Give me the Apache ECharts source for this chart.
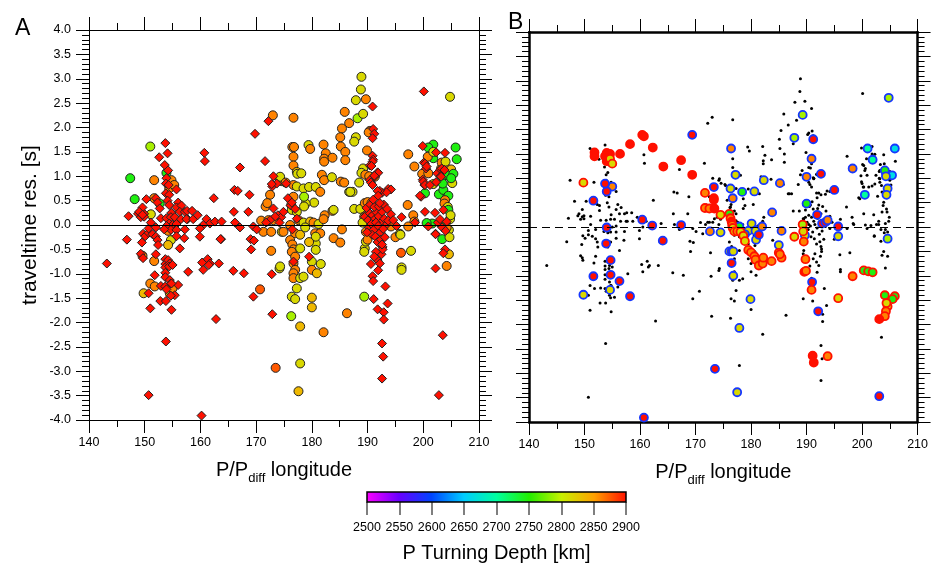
<!DOCTYPE html>
<html><head><meta charset="utf-8">
<script src="https://cdn.jsdelivr.net/npm/echarts/dist/echarts.min.js"></script>
<style>html,body{margin:0;padding:0;background:#fff}#c{width:931px;height:566px}</style>
</head><body><div id="c"></div><script>
// depth codes (km) used for fills / edges
const R=2900, O=2860, YO=2835, Y=2815, YG=2790, G=2745, T=2700, C=2665, BL=2590;

// colour bar definition
const depthTicks = [2500,2550,2600,2650,2700,2750,2800,2850,2900];
const depthColors = ['#ff00ff','#6a00ff','#0044ff','#00ccff','#00ffa0','#22ee00','#c8f000','#ffa000','#ff1000'];

// Panel A: red diamonds [lon, res]
const diamondsA = [
[143.2,-0.79],[146.8,-0.30],[147.1,0.18],[148.8,0.23],[149.9,0.23],[149.3,0.16],[149.6,0.36],[149.0,0.27],[149.9,0.17],[149.6,0.21],
[149.5,-0.36],[149.7,-0.18],[150.1,-0.23],[150.7,-0.16],[149.3,-0.59],[149.7,-0.68],[150.7,-0.07],[151.1,0.05],[150.3,0.53],[152.0,0.55],
[152.3,0.46],[152.7,0.34],[151.4,-0.19],[152.0,-0.05],[152.0,-0.24],[152.3,-0.31],[152.4,-0.41],[152.0,-0.60],[151.8,-1.03],[152.9,-1.25],
[150.7,-1.40],[151.0,-1.71],[150.7,-3.49],[152.8,-1.56],[153.8,-1.56],[153.8,-2.39],[153.7,1.68],[154.1,1.47],[152.6,1.39],[153.6,1.23],
[154.2,1.12],[153.9,0.96],[153.8,0.85],[154.3,0.82],[155.7,0.73],[153.8,0.65],[154.4,0.62],[154.1,0.50],[154.4,0.41],[156.0,0.46],
[155.7,0.36],[156.6,0.40],[154.8,0.25],[156.3,0.27],[157.2,0.27],[152.9,0.14],[153.9,0.14],[154.7,0.16],[155.4,0.16],[156.5,0.12],
[157.7,0.12],[154.4,0.03],[155.0,0.00],[155.7,0.02],[153.9,-0.02],[154.7,-0.10],[153.5,-0.09],[155.7,-0.10],[155.7,-0.23],[157.1,-0.27],
[153.7,-0.70],[153.7,-0.80],[153.7,-0.87],[153.7,-0.98],[153.7,-1.07],[153.7,-1.26],[154.2,-0.72],[154.5,-0.79],[154.4,-0.85],[155.0,-0.82],
[154.5,-1.13],[154.7,-1.20],[154.8,-1.74],[155.4,-1.44],[156.0,-1.23],[156.3,-0.48],[157.8,-0.96],[154.7,-1.45],[153.9,-1.32],[154.8,-1.20],
[157.6,0.29],[158.5,0.29],[157.5,0.12],[158.7,0.12],[159.5,0.20],[161.1,0.12],[161.7,0.03],[162.6,0.07],[163.8,0.07],[160.5,0.00],[159.9,-0.07],[157.2,-0.09],
[166.2,0.05],[167.1,-0.05],[169.5,-0.03],[170.1,-0.09],[166.0,0.27],[168.6,0.27],[159.9,-0.24],[163.7,-0.29],[169.0,-0.29],[169.6,-0.32],[169.1,-0.50],
[161.3,-0.70],[161.7,-0.79],[160.3,-0.77],[161.5,-0.82],[163.3,-0.79],[160.5,-0.92],[165.9,-0.94],[167.8,-0.99],[172.8,-1.01],[169.5,-1.47],[162.8,-1.93],[160.2,-3.91],
[160.7,1.48],[160.8,1.31],[167.1,1.18],[169.8,1.87],[172.2,2.13],[171.6,1.31],[166.1,0.72],[166.7,0.70],[162.4,0.55],[168.8,0.62],
[172.9,-1.83],[163.6,-0.29],
[173.1,1.00],[172.9,0.79],[173.7,0.85],[172.8,0.84],[173.1,0.34],[173.9,0.20],[174.5,0.16],[173.4,0.17],[172.5,0.10],[171.8,0.05],[174.9,0.27],[175.4,0.85],[174.2,0.05],[176.2,0.40],[175.7,0.55],[176.4,0.46],[177.0,0.33],
[176.7,-0.75],[179.5,-0.65],[176.5,-0.09],[177.3,0.13],
[190.9,2.43],[191.0,1.97],[191.2,1.87],[190.9,1.78],[190.9,1.42],[191.0,1.34],[190.9,1.30],[190.4,1.22],[190.7,1.21],[191.8,1.08],[191.9,1.07],[191.3,1.00],[191.2,1.01],
[190.4,0.92],[190.6,0.87],[190.9,0.82],[192.6,0.66],[193.7,0.74],[194.2,0.73],[193.4,0.67],[192.2,0.70],[191.8,0.70],[191.9,0.60],
[189.5,0.17],[190.1,0.10],[190.4,0.24],[190.9,0.20],[191.3,0.12],[191.6,0.26],[192.0,0.18],[192.4,0.05],[192.6,0.27],[193.0,0.13],[193.4,0.01],[190.3,-0.05],[190.7,0.02],[191.1,-0.10],[191.5,0.05],[191.9,-0.02],[192.3,-0.15],[192.8,-0.08],[193.7,0.09],[194.2,0.22],[190.8,-0.20],[191.4,-0.24],[191.8,-0.35],[192.4,-0.30],[192.7,-0.45],[193.1,-0.25],[189.8,0.35],[190.5,0.42],[191.2,0.37],[192.0,0.38],[192.9,0.42],[193.5,0.33],[191.0,0.52],[192.2,0.45],[189.9,-0.15],
[190.6,-0.80],[190.9,-1.05],[191.0,-1.15],[191.1,-1.52],[191.8,-0.72],[192.2,-0.79],[191.9,-0.93],[191.8,-1.73],[192.9,-1.79],[192.9,-1.94],[193.2,-1.26],[193.6,-1.61],[192.6,-2.43],[192.8,-2.70],[192.6,-3.15],[192.5,-0.60],[192.7,-0.50],[192.6,-0.40],[191.5,-0.55],[191.2,-0.65],
[196.1,0.16],[198.5,0.05],[200.9,-0.03],[195.2,-0.02],[194.6,0.10],
[200.1,2.74],[199.9,1.62],[202.3,1.49],[203.9,1.48],[200.1,1.28],[200.5,1.16],[200.3,1.26],[200.6,1.20],[202.5,1.06],[203.1,1.14],[203.3,1.16],[203.1,1.00],[203.2,0.99],[203.8,1.13],
[199.9,0.93],[200.2,0.82],[200.0,0.89],[200.3,0.82],[201.2,0.82],[202.3,0.88],[199.6,0.58],[199.4,0.60],[200.3,0.27],[203.6,0.31],[202.1,0.25],[202.2,-0.18],[204.2,0.07],[202.6,0.05],[203.0,0.12],[203.4,-0.05],[204.0,-0.12],
[203.9,-0.50],[203.6,-0.58],[202.2,-0.89],[203.5,-2.26],[202.8,-3.49],[202.2,-0.19]
];

// Panel A: circles coloured by turning depth [lon, res, depth]
const hexA = [
[147.4,0.96,G],[148.2,0.53,G],[151.0,1.61,YG],[151.7,0.92,O],[151.7,0.55,O],[151.1,0.22,Y],[154.8,0.92,O],[154.4,0.75,O],[155.3,0.82,O],[153.9,1.07,G],[152.7,0.44,G],[154.2,-0.12,O],[154.7,-0.31,Y],[154.2,-0.41,YO],[149.6,-0.63,O],[151.7,-0.74,O],[151.0,-1.20,O],[151.8,-1.26,O],[149.8,-1.40,YO],[154.5,-1.40,YO],[155.0,-1.30,O],
[170.7,-1.32,2875],[173.5,-2.93,2875],[173.0,2.25,O],[176.7,2.20,O],[172.5,0.62,O],[171.7,0.38,O],[172.0,0.45,O],[170.9,0.09,O],[171.3,-0.14,O],[172.7,-0.14,O],[174.6,-0.14,Y],[172.2,0.10,O],[173.1,0.10,O],[172.7,-0.53,O],[174.2,-0.89,Y],[174.2,0.96,YO],[174.6,0.90,O],
[176.5,1.60,O],[176.8,1.60,O],[176.7,1.40,O],[176.7,1.22,O],[177.3,1.09,YO],[177.4,1.05,Y],[178.1,1.06,Y],[179.4,1.64,Y],[179.7,1.56,O],[182.1,1.65,O],[182.5,1.47,O],[182.2,1.36,O],[182.2,1.30,O],[183.7,1.38,O],[181.8,1.03,O],[182.2,0.92,O],[183.6,0.98,Y],[185.2,0.89,O],[185.8,0.87,O],[186.7,0.68,Y],[187.3,0.68,Y],[188.5,0.87,Y],
[174.3,0.99,Y],[175.3,0.87,O],[176.7,0.82,O],[177.3,0.79,Y],[178.5,0.75,Y],[179.5,0.78,Y],[180.7,0.78,Y],[181.5,0.68,O],[180.4,0.46,Y],[178.9,0.44,Y],[176.7,0.58,O],[176.3,0.41,O],[176.4,0.31,Y],[177.3,0.27,Y],[178.6,0.58,YG],[178.6,0.38,Y],[183.7,0.29,O],[182.3,0.20,O],
[177.6,0.10,O],[178.5,0.05,Y],[179.7,0.07,YO],[180.3,0.05,O],[181.2,0.02,Y],[182.1,0.12,O],[176.1,0.00,O],[174.9,-0.14,O],[177.0,-0.17,O],[177.9,-0.20,YO],[178.8,-0.05,Y],[180.6,-0.17,O],[181.5,-0.17,O],[185.4,-0.09,O],[183.9,-0.27,O],[185.1,-0.36,O],
[176.1,-0.31,O],[176.5,-0.40,O],[176.7,-0.50,O],[176.4,-0.55,O],[177.9,-0.48,Y],[177.0,-0.65,O],[176.7,-0.79,O],[180.0,-0.75,Y],[180.7,-0.38,Y],[180.7,-0.51,Y],[180.7,-0.24,Y],[179.5,-0.35,YO],
[177.0,-0.92,O],[176.7,-0.99,O],[176.7,-1.09,O],[177.9,-1.09,Y],[178.5,-1.06,Y],[180.0,-0.92,O],[180.9,-0.99,YO],[181.6,-0.80,Y],[177.3,-1.30,Y],[180.0,-1.49,YO],[176.4,-1.47,Y],[177.0,-1.52,Y],[180.0,-1.69,YO],[176.3,-1.87,YG],[177.9,-2.08,YO],[177.9,-2.84,Y],[177.6,-3.41,YO],[182.1,-2.20,O],[186.3,-1.81,O],[174.3,-0.85,Y],[183.9,0.31,Y],
[188.9,3.04,Y],[188.8,2.78,Y],[187.9,2.56,Y],[189.7,2.58,O],[188.2,2.19,YG],[189.2,2.28,Y],[185.9,2.32,O],[186.7,2.09,O],[185.4,1.98,O],[185.1,1.80,O],[187.9,1.80,Y],[187.6,1.71,Y],[185.2,1.61,O],[186.0,1.50,O],[186.0,1.33,O],[189.2,1.16,Y],[188.9,1.07,Y],[189.6,1.03,O],[189.9,1.53,O],[190.4,1.93,O],[190.2,1.90,O],[186.9,0.68,Y],
[187.6,0.33,Y],[188.7,0.33,Y],[189.4,0.17,O],[189.8,0.20,O],[189.5,0.45,O],[190.0,0.47,O],[190.7,0.45,O],[189.5,-0.48,Y],[189.4,-0.55,Y],[189.7,-0.34,Y],[189.7,-0.14,O],[190.0,-0.30,O],[189.4,-1.47,YG],[190.3,1.00,O],[191.3,0.99,O],[194.2,-0.03,O],[195.0,-0.25,O],[195.8,-0.18,Y],[195.9,-0.20,Y],[196.0,-0.57,2875],[196.1,-0.87,Y],[196.1,-0.92,Y],[197.8,-0.53,Y],[197.2,0.41,O],[198.2,0.20,O],[198.4,0.07,O],[197.3,-0.03,O],[197.3,1.45,O],[198.4,1.20,O],[190.4,0.05,O],[189.1,0.05,Y],
[204.8,2.63,Y],[201.8,1.65,G],[200.9,1.59,G],[205.8,1.59,G],[206.0,1.35,G],[201.8,1.37,G],[200.8,1.40,O],[201.8,1.50,Y],[199.8,1.05,O],[200.9,1.06,O],[200.3,0.65,G],[201.8,0.84,Y],[203.2,1.16,O],[204.2,1.16,O],[205.0,1.14,YO],[203.8,1.08,G],[204.3,1.02,G],[203.2,0.92,G],[205.4,1.05,G],[205.2,0.86,Y],[205.0,0.96,G],[202.8,0.63,G],[203.6,0.72,G],[204.5,0.60,G],[203.9,0.51,O],[203.8,0.44,O],[204.4,0.37,Y],[204.5,0.31,G],[204.8,0.12,Y],[204.6,-0.10,Y],[203.4,-0.29,G],[204.7,-0.25,Y],[204.2,-0.05,O],[204.6,-0.60,YO],[204.2,-0.84,O],[203.3,1.28,O],[204.0,1.30,Y],[203.5,0.85,G],[201.6,0.03,G],[200.6,0.04,G],[203.0,0.05,G],[204.9,0.20,Y]
];

// Panel B: ringed circles [lon, res, fill depth, edge depth]
const ringsB = [
[204.8,2.65,YG,BL],[189.3,2.30,YG,BL],[187.8,1.83,YG,BL],[191.2,1.80,R,BL],[169.4,1.89,R,BL],[176.4,1.61,O,BL],[190.9,1.40,O,BL],[201.0,1.61,T,BL],[205.9,1.61,C,BL],[201.9,1.38,T,BL],[198.3,1.20,O,BL],[204.1,1.16,G,BL],[205.4,1.06,C,BL],[204.3,1.04,Y,BL],[192.6,1.09,R,BL],[190.0,1.03,O,BL],[177.2,1.07,Y,BL],[182.3,0.96,Y,BL],[185.2,0.90,O,BL],[204.6,0.79,Y,BL],[204.4,0.66,Y,BL],[200.5,0.66,T,BL],[195.0,0.76,R,BL],[180.6,0.73,Y,BL],[178.4,0.72,G,BL],[176.3,0.79,Y,BL],[173.3,0.82,R,BL],[176.7,0.59,O,BL],[155.0,0.83,O,BL],[154.0,0.73,R,BL],[153.7,0.89,R,BL],[151.6,0.54,R,BL],
[154.0,-0.01,R,BL],[153.9,-0.34,R,BL],[154.7,-0.68,R,BL],[154.7,-0.98,R,BL],[151.6,-1.01,R,BL],[154.6,-1.29,Y,BL],[156.3,-1.11,R,BL],[149.8,-1.39,Y,BL],[158.2,-1.42,R,BL],[160.4,0.15,R,BL],[162.2,0.03,R,BL],[164.1,-0.28,R,BL],[167.4,0.04,R,BL],[172.6,-0.09,O,BL],[174.5,-0.11,Y,BL],[177.9,0.01,G,BL],[179.5,-0.08,Y,BL],[180.1,0.07,Y,BL],[180.8,-0.08,Y,BL],[180.9,-0.26,Y,BL],[181.4,-0.16,R,BL],[182.0,0.01,O,BL],[183.8,0.30,O,BL],[185.5,-0.08,O,BL],[185.0,-0.37,Y,BL],[176.1,-0.50,Y,BL],[176.5,-0.50,R,BL],[176.8,-0.50,Y,BL],[176.5,-0.74,R,BL],[176.8,-1.00,Y,BL],[179.9,-1.48,Y,BL],[177.9,-2.07,Y,BL],[177.5,-3.39,Y,BL],[173.5,-2.91,R,BL],[160.7,-3.91,R,BL],[203.1,-3.47,R,BL],[192.1,-1.73,R,BL],[191.0,-1.13,R,BL],[189.7,-0.17,Y,BL],[190.0,0.48,G,BL],[191.9,0.25,R,BL],[192.8,0.07,R,BL],[193.4,0.10,R,BL],[193.8,0.14,O,BL],[195.7,0.01,R,BL],[195.7,-0.19,Y,BL],[204.6,-0.24,YG,BL],[178.9,-0.15,G,BL],
[171.7,0.70,O,R],[173.3,0.59,R,R],[149.8,0.91,Y,R],[151.8,1.53,R,R],[151.8,1.45,R,R],[154.0,1.52,R,R],[154.6,1.50,R,R],[153.7,1.45,R,R],[154.0,1.35,R,R],[154.2,1.42,R,R],[154.6,1.40,Y,R],[155.0,1.30,Y,R],[156.4,1.50,R,R],[158.2,1.70,R,R],[160.4,1.89,R,R],[160.7,1.86,R,R],[162.3,1.63,R,R],[164.2,1.24,R,R],[167.4,1.37,R,R],[169.4,1.07,R,R],
[171.7,0.39,O,R],[172.5,0.38,O,R],[173.4,0.38,R,R],[173.3,0.56,R,R],[174.5,0.25,Y,R],[176.1,0.27,G,R],[176.3,0.18,O,R],[176.5,0.11,R,R],[176.6,0.04,O,R],[176.7,-0.02,Y,R],[177.0,-0.09,Y,R],[177.5,-0.09,O,R],[178.1,-0.10,Y,R],[178.6,-0.18,Y,R],[178.9,-0.29,Y,R],
[179.5,-0.47,O,R],[180.0,-0.52,O,R],[180.6,-0.60,O,R],[180.8,-0.67,O,R],[181.4,-0.79,O,R],[182.1,-0.75,O,R],[182.2,-0.63,O,R],[183.7,-0.70,O,R],[185.0,-0.53,Y,R],[185.5,-0.63,O,R],[185.2,-0.56,O,R],
[187.8,-0.20,Y,R],[189.3,0.05,YG,R],[189.4,-0.09,Y,R],[189.5,-0.30,O,R],[189.8,-0.66,O,R],[189.6,-0.92,R,R],[189.9,-0.90,O,R],[190.9,-1.29,O,R],[191.1,-2.64,R,R],[191.3,-2.78,R,R],[193.8,-2.65,O,R],[191.9,-4.02,R,R],[195.7,-1.46,Y,R],[198.3,-1.01,O,R],[200.3,-0.89,G,R],[201.1,-0.91,G,R],[201.9,-0.93,G,R],[204.1,-1.40,G,R],[205.9,-1.42,G,R],[205.5,-1.48,G,R],[204.6,-1.63,Y,R],[204.4,-1.56,Y,R],[204.3,-1.73,O,R],[204.1,-1.83,O,R],[203.1,-1.89,R,R]
];

function hex2rgb(h){return [parseInt(h.substr(1,2),16),parseInt(h.substr(3,2),16),parseInt(h.substr(5,2),16)];}
function depthColor(d){
  const lo=depthTicks[0], hi=depthTicks[depthTicks.length-1];
  const t=Math.max(0,Math.min(1,(d-lo)/(hi-lo)))*(depthColors.length-1);
  const i=Math.min(depthColors.length-2,Math.floor(t)), f=t-i;
  const a=hex2rgb(depthColors[i]), b=hex2rgb(depthColors[i+1]);
  return 'rgb('+a.map((v,k)=>Math.round(v+(b[k]-v)*f)).join(',')+')';
}

const FONT='Liberation Sans, Arial, Helvetica, sans-serif';
const chart=echarts.init(document.getElementById('c'),null,{renderer:'canvas'});

function xAx(grid,pos,labels,w,name){
  return {gridIndex:grid,type:'value',min:140,max:210,interval:10,position:pos,
    axisLine:{show:true,onZero:false,lineStyle:{color:'#000',width:w}},
    axisTick:{show:true,length:13,lineStyle:{color:'#000',width:1}},
    minorTick:{show:true,splitNumber:2,length:7,lineStyle:{color:'#000',width:1}},
    splitLine:{show:false},
    axisLabel:{show:labels,fontSize:12.5,color:'#000',fontFamily:FONT,margin:16},
    name:name||'',nameLocation:'middle',nameGap:35,
    nameTextStyle:{fontSize:20,color:'#000',fontFamily:FONT,
      rich:{sub:{fontSize:13,fontFamily:FONT,color:'#000',verticalAlign:'bottom',lineHeight:30}}}
  };
}
function yAx(grid,pos,labels,w,name){
  return {gridIndex:grid,type:'value',min:-4,max:4,interval:0.5,position:pos,
    axisLine:{show:true,onZero:false,lineStyle:{color:'#000',width:w}},
    axisTick:{show:true,length:13,lineStyle:{color:'#000',width:1}},
    minorTick:{show:true,splitNumber:5,length:7,lineStyle:{color:'#000',width:1}},
    splitLine:{show:false},
    axisLabel:{show:labels,fontSize:12.5,color:'#000',fontFamily:FONT,margin:18,formatter:v=>v.toFixed(1)},
    name:name||'',nameLocation:'middle',nameGap:48,
    nameTextStyle:{fontSize:21,color:'#000',fontFamily:FONT}
  };
}

const gradStops=depthColors.map((c,i)=>({offset:i/(depthColors.length-1),color:c}));
const allA=diamondsA.map(p=>[p[0],p[1]]).concat(hexA.map(p=>[p[0],p[1]]));

const option={
  animation:false,
  backgroundColor:'#fff',
  title:[
    {text:'A',left:10,top:12,textStyle:{fontSize:23,fontWeight:'normal',color:'#000',fontFamily:FONT}},
    {text:'B',left:503,top:6,textStyle:{fontSize:23,fontWeight:'normal',color:'#000',fontFamily:FONT}}
  ],
  grid:[
    {left:89,top:30,width:390,height:390},
    {left:529,top:32,width:389,height:390},
    {left:367,top:492,width:259,height:10}
  ],
  xAxis:[
    xAx(0,'bottom',true,1,'P/P{sub|diff} longitude'),
    xAx(0,'top',false,1),
    xAx(1,'bottom',true,2.5,'P/P{sub|diff} longitude'),
    xAx(1,'top',false,2.5),
    {gridIndex:2,type:'value',min:2500,max:2900,interval:50,position:'bottom',
      axisLine:{show:false},axisTick:{show:true,length:13,lineStyle:{color:'#555',width:1.5}},
      splitLine:{show:false},
      axisLabel:{fontSize:12.5,color:'#000',fontFamily:FONT,margin:19,formatter:v=>String(v)},
      name:'P Turning Depth [km]',nameLocation:'middle',nameGap:41,
      nameTextStyle:{fontSize:20,color:'#000',fontFamily:FONT}}
  ],
  yAxis:[
    yAx(0,'left',true,1,'traveltime res. [s]'),
    yAx(0,'right',false,1),
    yAx(1,'left',false,2.5),
    yAx(1,'right',false,2.5),
    {gridIndex:2,type:'value',min:0,max:1,show:false}
  ],
  series:[
    {type:'scatter',xAxisIndex:0,yAxisIndex:0,symbol:'circle',symbolSize:9,data:hexA,
      itemStyle:{color:p=>depthColor(p.value[2]),borderColor:'#222',borderWidth:1,opacity:1},
      markLine:{silent:true,symbol:['none','none'],label:{show:false},
        lineStyle:{color:'#000',width:1,type:'solid'},data:[{yAxis:0}]}},
    {type:'scatter',xAxisIndex:0,yAxisIndex:0,symbol:'diamond',symbolSize:9,data:diamondsA,
      itemStyle:{color:depthColor(R),borderColor:'#222',borderWidth:1,opacity:1}},
    {type:'scatter',xAxisIndex:2,yAxisIndex:2,symbol:'circle',symbolSize:3,data:allA,
      itemStyle:{color:'#000',opacity:1},
      markLine:{silent:true,symbol:['none','none'],label:{show:false},
        lineStyle:{color:'#000',width:1.2,type:[8,5]},data:[{yAxis:0}]}},
    {type:'scatter',xAxisIndex:2,yAxisIndex:2,symbol:'circle',symbolSize:8,
      data:ringsB.map(p=>({value:[p[0],p[1]],itemStyle:{color:depthColor(p[2]),borderColor:depthColor(p[3]),borderWidth:1.8}})),
      itemStyle:{opacity:1}},
    {type:'custom',xAxisIndex:4,yAxisIndex:4,data:[[depthTicks[0],depthTicks[depthTicks.length-1]]],
      renderItem:(params,api)=>{
        const p0=api.coord([api.value(0),1]), p1=api.coord([api.value(1),0]);
        return {type:'rect',shape:{x:p0[0],y:p0[1],width:p1[0]-p0[0],height:p1[1]-p0[1]},
          style:{fill:new echarts.graphic.LinearGradient(0,0,1,0,gradStops),stroke:'#000',lineWidth:1.5}};
      }}
  ]
};
chart.setOption(option);
</script></body></html>
